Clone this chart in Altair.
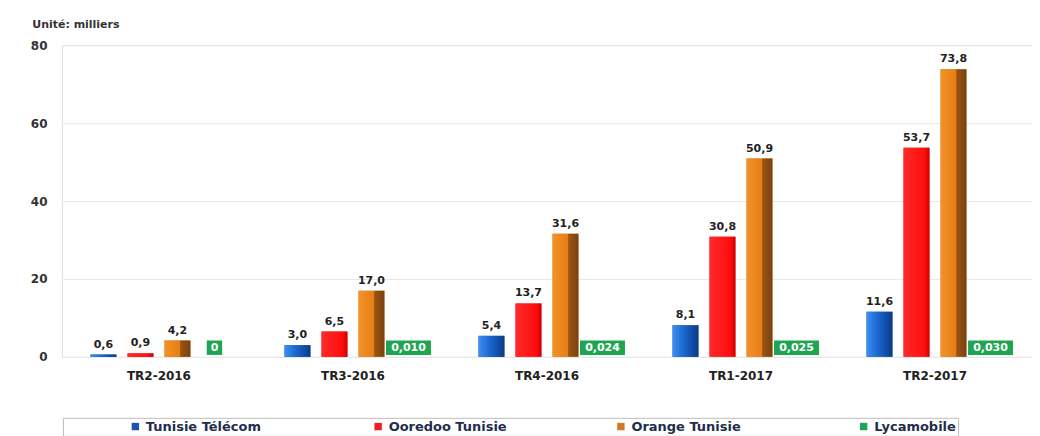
import altair as alt
import pandas as pd

categories = ["TR2-2016", "TR3-2016", "TR4-2016", "TR1-2017", "TR2-2017"]
series = ["Tunisie Télécom", "Ooredoo Tunisie", "Orange Tunisie", "Lycamobile"]
telecom = [0.6, 3.0, 5.4, 8.1, 11.6]
ooredoo = [0.9, 6.5, 13.7, 30.8, 53.7]
orange = [4.2, 17.0, 31.6, 50.9, 73.8]
lyca = [0, 0.010, 0.024, 0.025, 0.030]

rows = []
for s, vals in zip(series, [telecom, ooredoo, orange, lyca]):
    for c, v in zip(categories, vals):
        rows.append({"cat": c, "series": s, "value": v})
df = pd.DataFrame(rows)

legend_colors = ["#1f55b0", "#ee1c25", "#d07a28", "#22a55a"]
FONT = "DejaVu Sans"

x = alt.X("cat:N", sort=categories,
          scale=alt.Scale(paddingInner=0.237, paddingOuter=0.1185),
          axis=alt.Axis(title=None, labelAngle=0, domain=False, ticks=False,
                        labelFont=FONT, labelFontWeight="bold", labelFontSize=12,
                        labelColor="#222222", labelPadding=14))
xo = alt.XOffset("series:N", sort=series,
                 scale=alt.Scale(domain=series, paddingInner=0.3, paddingOuter=0.15))
y = alt.Y("value:Q", scale=alt.Scale(domain=[0, 80]),
          axis=alt.Axis(values=[0, 20, 40, 60, 80], title=None, domain=False, ticks=False,
                        labelFont=FONT, labelFontWeight="bold", labelFontSize=12,
                        labelColor="#333333", labelPadding=15, gridColor="#e8e8e8"))

base = alt.Chart(df).transform_calculate(
    label="datum.series == 'Lycamobile' ? (datum.value == 0 ? '0' : replace(format(datum.value, '.3f'), '.', ',')) : replace(format(datum.value, '.1f'), '.', ',')"
)
ops = base.transform_filter("datum.series != 'Lycamobile'")

bars = ops.mark_bar().encode(
    x=x, xOffset=xo, y=y,
    color=alt.Color("series:N", sort=series,
                    scale=alt.Scale(domain=series, range=legend_colors),
                    legend=alt.Legend(title=" ", titleOrient="left", titlePadding=64,
                                      orient="none", legendX=1, legendY=373,
                                      direction="horizontal", columns=4, gridAlign="all",
                                      columnPadding=107, symbolType="square", symbolSize=55,
                                      labelFont=FONT, labelFontWeight="bold", labelFontSize=13,
                                      labelColor="#1f2d4d", strokeColor="#bdbdbd",
                                      padding=2, labelLimit=300)),
)

def grad(stops):
    return alt.Gradient(gradient="linear", x1=0, x2=1, y1=0, y2=0,
                        stops=[alt.GradientStop(offset=o, color=c) for o, c in stops])

shade = {
    "Tunisie Télécom": [(0, "#3d8ff0"), (0.45, "#1a66d0"), (1, "#0b3a86")],
    "Ooredoo Tunisie": [(0, "#ff2a2a"), (0.8, "#ff0d0d"), (1, "#d00000")],
    "Orange Tunisie": [(0, "#f29228"), (0.6, "#e67e14"), (0.62, "#9a5412"), (1, "#7a420e")],
}
overlays = []
for s, st in shade.items():
    overlays.append(
        base.transform_filter(alt.datum.series == s).mark_bar(fill=grad(st)).encode(
            x=x, xOffset=xo, y=y)
    )

labels = ops.mark_text(baseline="bottom", dy=-5, font=FONT, fontWeight="bold",
                       fontSize=11, color="#222222").encode(
    x=x, xOffset=xo, y=y, text="label:N")

lyc = base.transform_filter("datum.series == 'Lycamobile'").transform_calculate(
    lo="0.5", hi="4.2", mid="2.35", boxw="length(datum.label) * 7.4 + 8")
boxes = lyc.mark_bar(color="#1fa552").encode(
    x=x, xOffset=xo, y=alt.Y("lo:Q", scale=alt.Scale(domain=[0, 80])), y2="hi:Q",
    size=alt.Size("boxw:Q", scale=None, legend=None))
boxtext = lyc.mark_text(baseline="middle", font=FONT, fontWeight="bold", fontSize=11,
                        color="white").encode(
    x=x, xOffset=xo, y=alt.Y("mid:Q", scale=alt.Scale(domain=[0, 80])), text="label:N")

chart = alt.layer(bars, *overlays, labels, boxes, boxtext).properties(
    width=971, height=312,
    title=alt.TitleParams("Unité: milliers", anchor="start", dx=2, offset=9,
                          font=FONT, fontWeight="bold", fontSize=11, color="#333333"),
    autosize=alt.AutoSizeParams(type="none"),
    padding={"left": 54, "top": 37, "right": 0, "bottom": 79},
).configure_view(stroke="#d9d9d9").configure(background="white")

chart.save("out.html", embed_options={"renderer": "svg", "actions": False})
